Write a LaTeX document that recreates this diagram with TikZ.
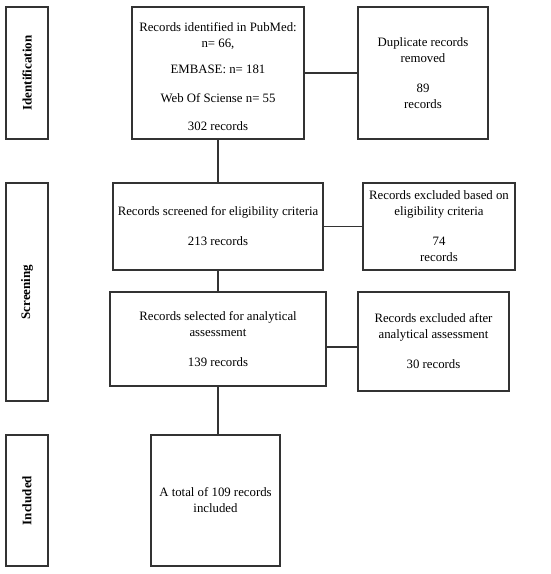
\documentclass[tikz,border=0pt]{standalone}
\usepackage{fontspec}
\setmainfont{Liberation Serif}
\begin{document}
\begin{tikzpicture}[x=1pt,y=-1pt,
    box/.style={draw=black!80, line width=1.1pt, align=center, inner sep=2pt,
        font=\fontsize{12.8}{16}\selectfont},
    phase/.style={draw=black!80, line width=1.1pt, rotate=90, minimum height=42pt,
        font=\fontsize{13}{15}\selectfont\bfseries},
    link/.style={draw=black!80, line width=1.1pt}]
    %%%%% START %%%%%
    \useasboundingbox (0,0) rectangle (550,574);

    % phases on the left
    \node[phase, minimum width=132pt] (identification) at (27,73) {Identification};
    \node[phase, minimum width=218pt] (screening) at (27,292) {Screening};
    \node[phase, minimum width=131pt] (included) at (27,500.5) {Included};

    % main column
    \node[box, minimum width=172pt, minimum height=132pt] (found) at (218,73)
        {\rule{0pt}{17pt}Records identified in PubMed:\\ n= 66,\\[10pt] EMBASE: n= 181\\[13pt]
         Web Of Sciense n= 55\\[12pt] 302 records};
    \node[box, minimum width=210pt, minimum height=87pt] (screened) at (218,226.5)
        {Records screened for eligibility criteria\\[14pt] 213 records};
    \node[box, minimum width=216pt, minimum height=94pt] (selected) at (218,339)
        {Records selected for analytical\\ assessment\\[14pt] 139 records};
    \node[box, minimum width=129pt, minimum height=131pt] (total) at (215.5,500.5)
        {A total of 109 records\\ included};

    % side column
    \node[box, minimum width=130pt, minimum height=132pt] (duplicates) at (423,73)
        {Duplicate records\\ removed\\[14pt] 89\\ records};
    \node[box, minimum width=152pt, minimum height=87pt] (noteligible) at (439,226.5)
        {Records excluded based on\\ eligibility criteria\\[14pt] 74\\ records};
    \node[box, minimum width=151pt, minimum height=99pt] (rejected) at (433.5,341.5)
        {Records excluded after\\ analytical assessment\\[14pt] 30 records};

    % connectors
    \draw[link] (found.east) -- (duplicates.west);
    \draw[link] (screened.east) -- (noteligible.west);
    \draw[link] ([yshift=-8pt]selected.east) -- ([yshift=-8pt]selected.east -| rejected.west);
    \draw[link] (found.south) -- (screened.north);
    \draw[link] (screened.south) -- (selected.north);
    \draw[link] (selected.south) -- (selected.south |- total.north);
    %%%%% END %%%%%
\end{tikzpicture}
\end{document}
